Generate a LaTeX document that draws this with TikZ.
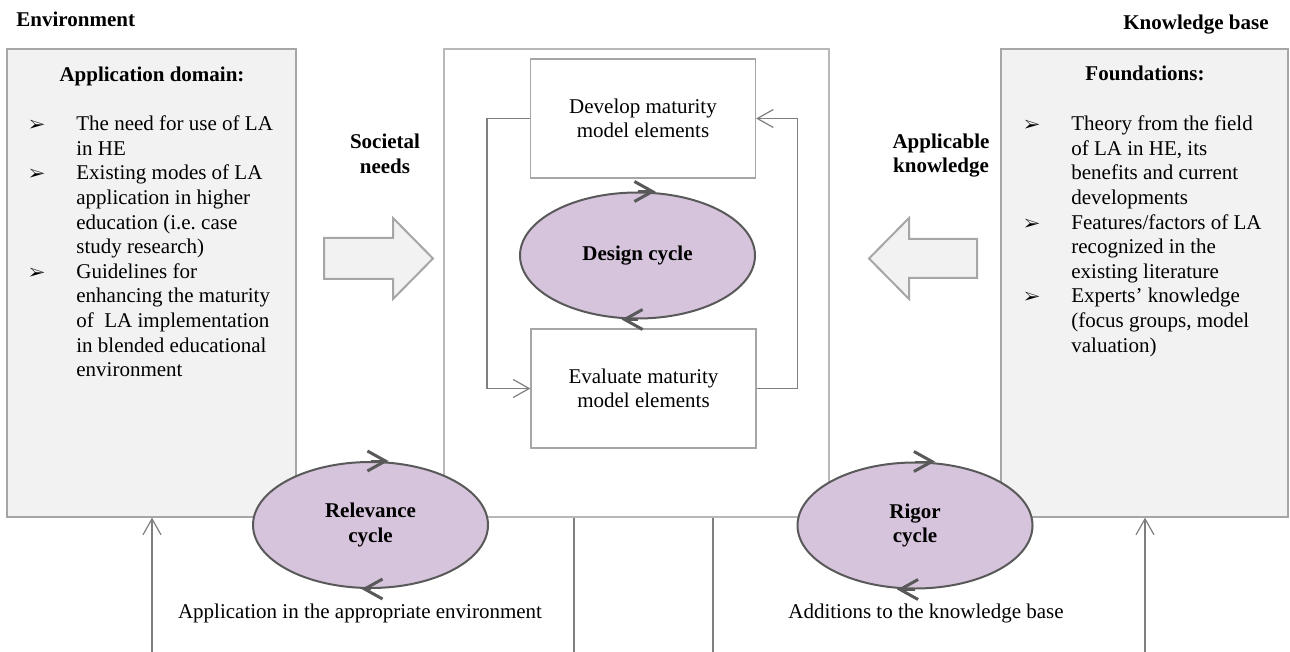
\documentclass[tikz,border=0pt]{standalone}
\usepackage{fontspec}
\setmainfont{Liberation Serif}
\usepackage{pifont}
\usepackage{xcolor}
\definecolor{dsrbg}{HTML}{F2F2F2}
\definecolor{dsredge}{HTML}{A6A6A6}
\definecolor{dsrgrey}{HTML}{7F7F7F}
\definecolor{dsrcyc}{HTML}{D6C4DC}
\definecolor{dsrring}{HTML}{595959}
\usepackage{tikz}
\usetikzlibrary{arrows.meta,positioning,shapes.geometric,calc}
\newcommand{\dsrbul}{\makebox[23.5pt][l]{\fontsize{8.5pt}{8.5pt}\selectfont\ding{226}}}
\tikzset{
  dsrtext/.style={font=\fontsize{10.5pt}{12.3pt}\selectfont,inner sep=0pt},
  dsrhead/.style={font=\fontsize{10.5pt}{12.3pt}\selectfont\bfseries,inner sep=0pt,align=center},
  dsrpanel/.style={draw=dsredge,fill=dsrbg,line width=0.6pt,minimum width=#1,minimum height=234pt,inner sep=0pt},
  dsrbox/.style={draw=dsredge,fill=white,line width=0.6pt,minimum width=112.5pt,minimum height=59.5pt,inner sep=0pt,align=center,font=\fontsize{10.5pt}{12.3pt}\selectfont},
  dsrcycle/.style={ellipse,draw=dsrring,fill=dsrcyc,line width=1pt,minimum width=117.5pt,minimum height=63pt,inner sep=0pt,align=center,font=\fontsize{10.5pt}{12.3pt}\selectfont\bfseries},
  dsrturn/.style={draw=dsrring,line width=1pt,-{Straight Barb[length=9pt,width=10pt,line width=1.5pt]}},
  dsrflow/.style={draw=dsrgrey,line width=0.6pt,-{Straight Barb[length=8pt,width=9pt]}},
  dsrwire/.style={draw=dsrgrey,line width=0.6pt},
  dsrblock/.style={draw=dsredge,fill=dsrbg,line width=1pt,line join=miter},
}
\begin{document}
\begin{tikzpicture}[x=0.5pt,y=-0.5pt]
\useasboundingbox (0,0) rectangle (1290,652);
 % environment, design artefact, knowledge base
\node[dsrpanel=144.5pt] (appdom) at (151.5,283) {};
\node[dsrpanel=192.5pt,draw=dsredge!80,fill=white] (artifact) at (636.5,283) {};
\node[dsrpanel=143.5pt] (found) at (1144.5,283) {};
\node[dsrhead,anchor=base west] (envlbl) at (16,26.7) {Environment};
\node[dsrhead,anchor=base east] (kblbl) at (1269,30) {Knowledge base};
\node[dsrhead,anchor=base] (apptitle) at (152,81.7) {Application domain:};
\node[dsrhead,anchor=base] (fndtitle) at (1145,80.7) {Foundations:};
\node[dsrtext,anchor=base west] (applist) at (29,130.7) {\begin{tabular}[t]{@{}l@{}l@{}}
\dsrbul & The need for use of LA\\
 & in HE\\
\dsrbul & Existing modes of LA\\
 & application in higher\\
 & education (i.e.\ case\\
 & study research)\\
\dsrbul & Guidelines for\\
 & enhancing the maturity\\
 & of\ \ LA implementation\\
 & in blended educational\\
 & environment
\end{tabular}};
\node[dsrtext,anchor=base west] (fndlist) at (1024,130.7) {\begin{tabular}[t]{@{}l@{}l@{}}
\dsrbul & Theory from the field\\
 & of LA in HE, its\\
 & benefits and current\\
 & developments\\
\dsrbul & Features/factors of LA\\
 & recognized in the\\
 & existing literature\\
\dsrbul & Experts' knowledge\\
 & (focus groups, model\\
 & valuation)
\end{tabular}};
 % design cycle
\node[dsrbox] (develop) at (643,118.5) {Develop maturity\\model elements};
\node[dsrbox] (evaluate) at (643.5,388.5) {Evaluate maturity\\model elements};
\draw[dsrflow] (develop.west) -- ++(-43,0) |- (evaluate.west);
\draw[dsrflow] (evaluate.east) -- ++(41,0) |- (develop.east);
\node[dsrhead] (needs) at (385,154) {Societal\\needs};
\node[dsrhead] (apk) at (941,155.5) {Applicable\\knowledge};
\draw[dsrblock] (324,238) -- (393,238) -- (393,218) -- (433,258.5) -- (393,299) -- (393,279) -- (324,279) -- cycle;
\draw[dsrblock] (977,239) -- (909,239) -- (909,218) -- (869,258.5) -- (909,299) -- (909,278) -- (977,278) -- cycle;
\node[dsrcycle] (design) at (637.5,255.5) {Design cycle};
\draw[dsrturn] (design.north) -- ++(18,0);
\draw[dsrturn] (design.south) -- ++(-16,0);
 % relevance and rigor cycles
\node[dsrcycle] (relev) at (370.5,525) {Relevance\\cycle};
\draw[dsrturn] (relev.north) -- ++(18,0);
\draw[dsrturn] (relev.south) -- ++(-9,0);
\node[dsrcycle] (rigor) at (915,525.5) {Rigor\\cycle};
\draw[dsrturn] (rigor.north) -- ++(20,0);
\draw[dsrturn] (rigor.south) -- ++(-18,0);
\coordinate (envfeed) at (152,652);
\coordinate (relout) at (574,652);
\coordinate (rigout) at (713,652);
\coordinate (kbfeed) at (1145,652);
\draw[dsrflow] (envfeed) -- (appdom.south -| envfeed);
\draw[dsrwire] (artifact.south -| relout) -- (relout);
\draw[dsrwire] (artifact.south -| rigout) -- (rigout);
\draw[dsrflow] (kbfeed) -- (found.south -| kbfeed);
\node[dsrtext,anchor=base] (relnote) at (360,618) {Application in the appropriate environment};
\node[dsrtext,anchor=base] (rignote) at (926,618) {Additions to the knowledge base};
\end{tikzpicture}
\end{document}
